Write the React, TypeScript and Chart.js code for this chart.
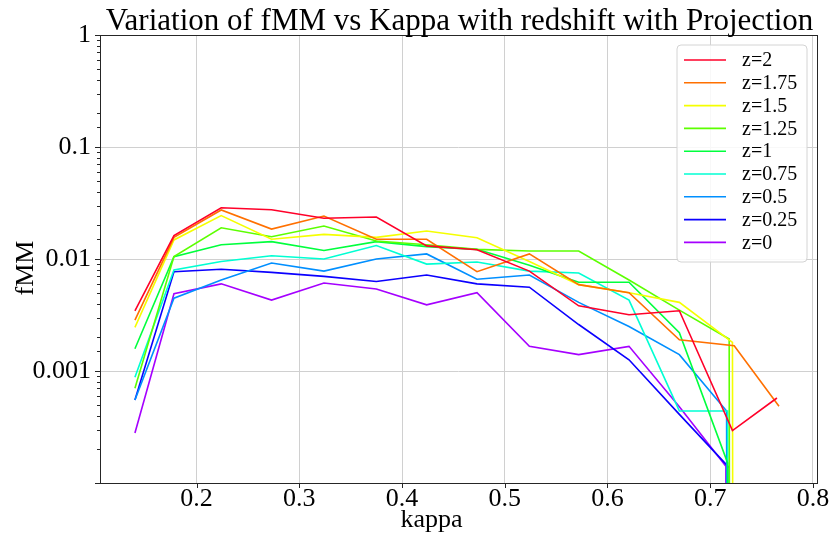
import React, { useEffect, useRef } from 'react';
import { Chart, registerables } from 'chart.js';

Chart.register(...registerables);

// ---- data ----
const titleText = 'Variation of fMM vs Kappa with redshift with Projection';
const xTitle = 'kappa';
const yTitle = 'fMM';

const kappaBins = [0.140, 0.178, 0.224, 0.273, 0.324, 0.375, 0.424, 0.473, 0.524, 0.572, 0.621, 0.670];

const labels = ['z=2', 'z=1.75', 'z=1.5', 'z=1.25', 'z=1', 'z=0.75', 'z=0.5', 'z=0.25', 'z=0'];
const colors = ['#ff0029', '#ff7000', '#f5ff00', '#5cff00', '#00ff3d', '#00ffd3', '#008fff', '#0b00ff', '#a500ff'];

const fMM_z2 = [0.00345, 0.0162, 0.0287, 0.0275, 0.0231, 0.0237, 0.0131, 0.0121, 0.0078, 0.00382, 0.00318, 0.00345, 0.000294, 0.000574];
const fMM_z175 = [0.00285, 0.0156, 0.0274, 0.0185, 0.0242, 0.0150, 0.0150, 0.0077, 0.0111, 0.0059, 0.0050, 0.0019, 0.00168, 0.000484];
const fMM_z15 = [0.00245, 0.0148, 0.0244, 0.0150, 0.0166, 0.0156, 0.0178, 0.0155, 0.0095, 0.0059, 0.0050, 0.0041, 0.0018, 0];
const fMM_z125 = [0.00070, 0.0105, 0.0190, 0.0158, 0.0197, 0.0145, 0.0134, 0.0122, 0.0118, 0.0118, 0.0065, 0.0035, 0.00193, 0];
const fMM_z1 = [0.00158, 0.0105, 0.0134, 0.0143, 0.0119, 0.0143, 0.0129, 0.0122, 0.0088, 0.0062, 0.0062, 0.0022, 0.000151, 0];
const fMM_z075 = [0.00088, 0.0080, 0.0095, 0.0107, 0.0100, 0.0132, 0.0090, 0.0094, 0.0078, 0.0075, 0.0043, 0.00044, 0.00044, 0];
const fMM_z05 = [0.00055, 0.00447, 0.0065, 0.0092, 0.0078, 0.0100, 0.0111, 0.0066, 0.0072, 0.0041, 0.0025, 0.0014, 0.00044, 0];
const fMM_z025 = [0.00055, 0.0077, 0.0081, 0.0076, 0.0070, 0.0063, 0.0072, 0.0060, 0.0056, 0.0026, 0.00126, 0.00041, 0.000137, 0];
const fMM_z0 = [0.00028, 0.0049, 0.0060, 0.0043, 0.0061, 0.0054, 0.0039, 0.0050, 0.00166, 0.0014, 0.00166, 0.00048, 0.000141, 0];

// kappa of the last two bins for each series
const tail_z2 = [0.7217, 0.765];
const tail_z175 = [0.7234, 0.767];
const tail_z15 = [0.7217, 0.766];
const tail_z125 = [0.7185, 0.766];
const tail_z1 = [0.717, 0.766];
const tail_z075 = [0.717, 0.766];
const tail_z05 = [0.716, 0.766];
const tail_z025 = [0.7185, 0.766];
const tail_z0 = [0.7153, 0.766];

const seriesValues = [fMM_z2, fMM_z175, fMM_z15, fMM_z125, fMM_z1, fMM_z075, fMM_z05, fMM_z025, fMM_z0];
const seriesTails = [tail_z2, tail_z175, tail_z15, tail_z125, tail_z1, tail_z075, tail_z05, tail_z025, tail_z0];

const yTickValues = [1, 0.1, 0.01, 0.001];
const xTickValues = [0.2, 0.3, 0.4, 0.5, 0.6, 0.7, 0.8];

const SERIF = '"Liberation Serif", "Times New Roman", serif';

export default function App() {
  const ref = useRef<HTMLCanvasElement>(null);

  useEffect(() => {
    const datasets = labels.map((label, i) => {
      const xs = [...kappaBins, ...seriesTails[i]];
      return {
        label,
        // non-positive values are clipped far below the axis, as matplotlib's log scale does
        data: seriesValues[i].map((v, j) => ({ x: xs[j], y: v > 0 ? v : 1e-300 })),
        borderColor: colors[i],
        backgroundColor: colors[i],
        borderWidth: 1.6,
        pointRadius: 0,
        tension: 0,
        fill: false,
      };
    });

    const isMajor = (v: number) => {
      const l = Math.log10(v);
      return Math.abs(l - Math.round(l)) < 1e-6;
    };

    const decorPlugin = {
      id: 'decor',
      beforeDraw(chart: any) {
        const ctx = chart.ctx;
        ctx.save();
        ctx.fillStyle = '#ffffff';
        ctx.fillRect(0, 0, chart.width, chart.height);
        ctx.restore();
      },
      afterDatasetsDraw(chart: any) {
        const ctx = chart.ctx;
        const a = chart.chartArea;
        const xs = chart.scales.x;
        const ys = chart.scales.y;
        ctx.save();
        // frame
        ctx.strokeStyle = '#262626';
        ctx.lineWidth = 1;
        ctx.strokeRect(Math.round(a.left) + 0.5, Math.round(a.top) + 0.5, Math.round(a.right - a.left), Math.round(a.bottom - a.top));
        // y tick marks
        ctx.beginPath();
        ys.ticks.forEach((t: any) => {
          const py = Math.round(ys.getPixelForValue(t.value)) + 0.5;
          const len = isMajor(t.value) ? 5 : 3;
          ctx.moveTo(a.left, py);
          ctx.lineTo(a.left - len, py);
        });
        // x tick marks
        xs.ticks.forEach((t: any) => {
          const px = Math.round(xs.getPixelForValue(t.value)) + 0.5;
          ctx.moveTo(px, a.bottom);
          ctx.lineTo(px, a.bottom + 5);
        });
        ctx.stroke();

        // title
        ctx.fillStyle = '#000';
        ctx.font = `31px ${SERIF}`;
        ctx.textAlign = 'center';
        ctx.textBaseline = 'alphabetic';
        ctx.fillText(titleText, (a.left + a.right) / 2 + 1, a.top - 5);

        // axis titles
        ctx.font = `26px ${SERIF}`;
        ctx.fillText(xTitle, (a.left + a.right) / 2 - 27, a.bottom + 44);
        ctx.save();
        ctx.translate(a.left - 67, (a.top + a.bottom) / 2 + 9);
        ctx.rotate(-Math.PI / 2);
        ctx.fillText(yTitle, 0, 0);
        ctx.restore();

        // legend
        const bx = a.right - 140;
        const by = a.top + 10;
        const bw = 130;
        const bh = 217;
        ctx.beginPath();
        const r = 4;
        ctx.moveTo(bx + r, by);
        ctx.arcTo(bx + bw, by, bx + bw, by + bh, r);
        ctx.arcTo(bx + bw, by + bh, bx, by + bh, r);
        ctx.arcTo(bx, by + bh, bx, by, r);
        ctx.arcTo(bx, by, bx + bw, by, r);
        ctx.closePath();
        ctx.fillStyle = 'rgba(255,255,255,0.85)';
        ctx.fill();
        ctx.strokeStyle = '#d4d4d4';
        ctx.lineWidth = 1;
        ctx.stroke();
        ctx.font = `20px ${SERIF}`;
        ctx.textAlign = 'left';
        ctx.textBaseline = 'middle';
        labels.forEach((lab, i) => {
          const ry = by + 15 + i * 22.8;
          ctx.beginPath();
          ctx.strokeStyle = colors[i];
          ctx.lineWidth = 1.6;
          ctx.moveTo(bx + 7, ry);
          ctx.lineTo(bx + 49, ry);
          ctx.stroke();
          ctx.fillStyle = '#000';
          ctx.fillText(lab, bx + 65, ry + 1);
        });
        ctx.restore();
      },
    };

    const chart = new Chart(ref.current as HTMLCanvasElement, {
      type: 'line',
      data: { datasets } as any,
      options: {
        animation: false,
        responsive: true,
        maintainAspectRatio: false,
        layout: { padding: { top: 35, right: 12, left: 0, bottom: 0 } },
        plugins: {
          legend: { display: false },
          tooltip: { enabled: false },
          title: { display: false },
        },
        scales: {
          x: {
            type: 'linear',
            min: 0.106,
            max: 0.804,
            afterFit: (s: any) => { s.height = 57; s.paddingLeft = 0; s.paddingRight = 0; },
            afterBuildTicks: (s: any) => { s.ticks = xTickValues.map((v) => ({ value: v })); },
            border: { display: false },
            grid: { color: '#d0d0d0', lineWidth: 1, drawTicks: false },
            ticks: {
              padding: 1,
              color: '#000',
              font: { family: SERIF, size: 26 },
              callback: (v: any) => Number(v).toFixed(1),
              maxRotation: 0,
              autoSkip: false,
            },
          },
          y: {
            type: 'logarithmic',
            min: 1e-4,
            max: 1,
            afterFit: (s: any) => { s.width = 100; s.paddingTop = 0; s.paddingBottom = 0; },
            border: { display: false },
            grid: {
              drawTicks: false,
              lineWidth: 1,
              color: (c: any) => (c.tick && yTickValues.some((v) => Math.abs(v - c.tick.value) < v * 1e-6) ? '#d0d0d0' : 'rgba(0,0,0,0)'),
            },
            ticks: {
              padding: 9,
              color: '#000',
              autoSkip: false,
              font: { family: SERIF, size: 26 },
              callback: (v: any) => {
                const n = Number(v);
                return yTickValues.some((t) => Math.abs(t - n) < t * 1e-6) ? String(+n.toPrecision(1)) : '';
              },
            },
          },
        },
      } as any,
      plugins: [decorPlugin],
    });
    return () => chart.destroy();
  }, []);

  return (
    <div style={{ position: 'fixed', left: 0, top: 0, width: 829, height: 540, background: '#fff' }}>
      <canvas ref={ref} />
    </div>
  );
}
